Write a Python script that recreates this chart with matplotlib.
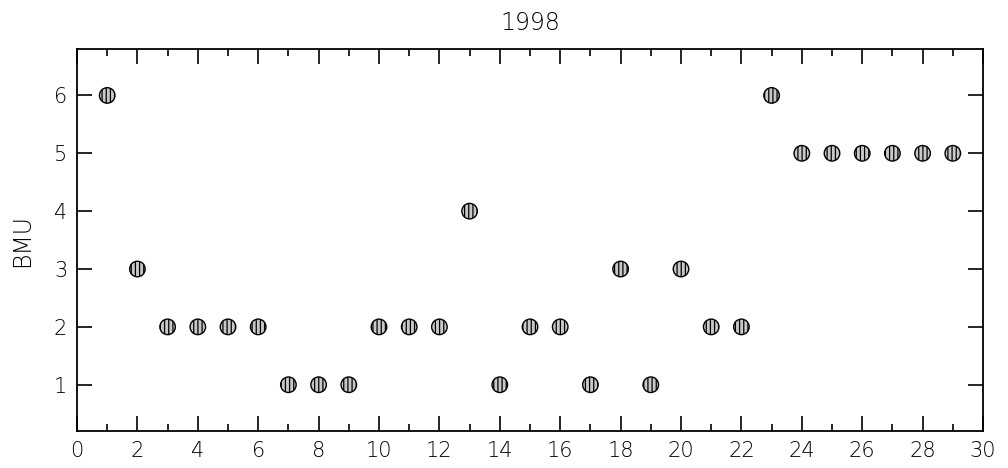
import matplotlib.pyplot as plt
import numpy as np

x = np.arange(1, 30)
bmu = [6, 3, 2, 2, 2, 2, 1, 1, 1, 2, 2, 2, 4, 1, 2, 2, 1, 3, 1, 3, 2, 2, 6, 5, 5, 5, 5, 5, 5]

plt.rcParams['font.family'] = 'DejaVu Sans'
plt.rcParams['hatch.linewidth'] = 0.9

fig = plt.figure(figsize=(10.08, 4.68), dpi=100)
ax = fig.add_axes([0.0764, 0.079, 0.8988, 0.816])

ax.scatter(x, bmu, s=125, facecolor='#c8c8c8', edgecolor='black',
           linewidth=1.0, hatch='||||', zorder=3)

ax.set_xlim(0, 30)
ax.set_ylim(0.2, 6.8)
ax.set_xticks(np.arange(0, 31, 2))
ax.set_xticks(np.arange(1, 30, 2), minor=True)
ax.set_yticks(np.arange(1, 7))

ax.tick_params(axis='both', which='major', direction='in', length=11, width=1.2,
               labelsize=15, top=True, right=True, pad=7)
ax.tick_params(axis='x', which='minor', direction='in', length=5, width=1.2, top=True)
for lab in ax.get_xticklabels() + ax.get_yticklabels():
    lab.set_fontweight('light')
for sp in ax.spines.values():
    sp.set_linewidth(1.3)

ax.set_ylabel('BMU', fontsize=17, fontweight='light', labelpad=14)
ax.set_title('1998', fontsize=17, fontweight='light', pad=14)

fig.savefig('out.png', dpi=100)
